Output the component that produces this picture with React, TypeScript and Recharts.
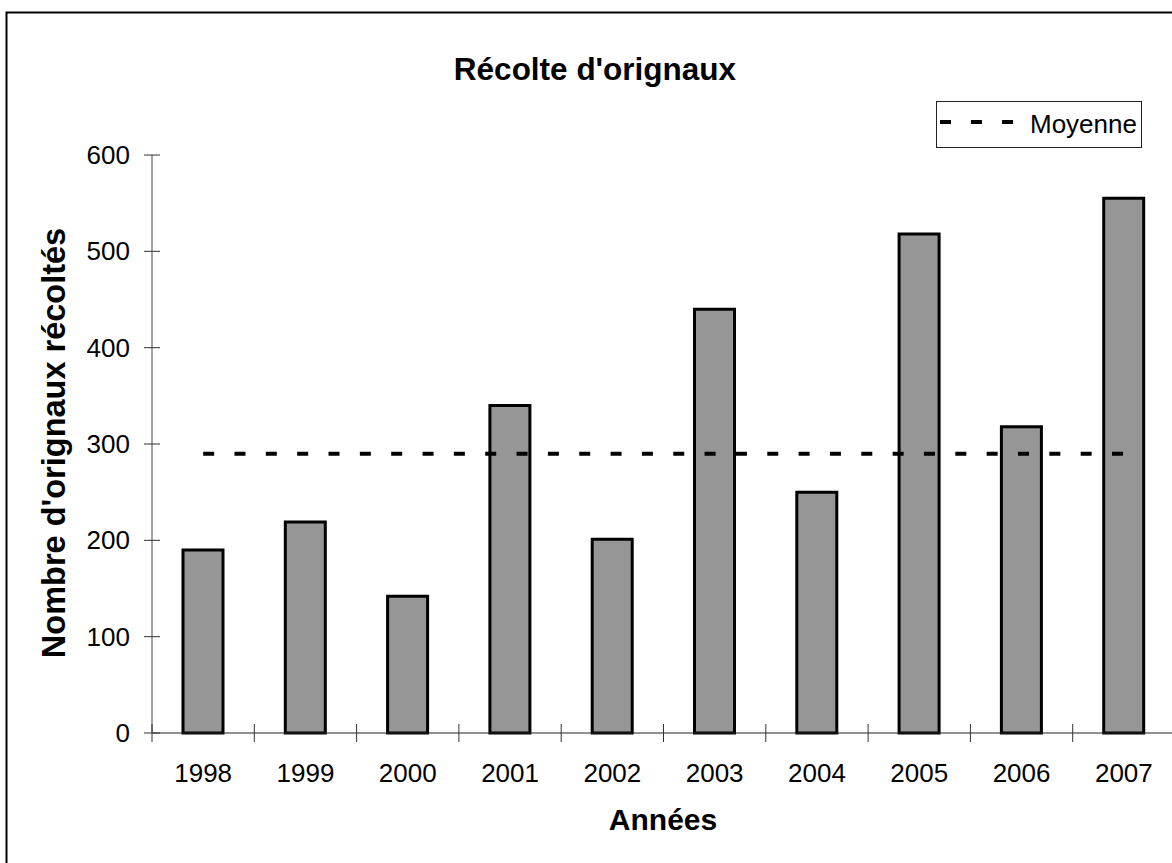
import { BarChart, Bar, Line, XAxis, YAxis, Legend } from "recharts";

const years = ["1998", "1999", "2000", "2001", "2002", "2003", "2004", "2005", "2006", "2007"];
const recolte = [190, 219, 142, 340, 201, 440, 250, 518, 318, 555];
const moyenne = 290;
const yTicks = [0, 100, 200, 300, 400, 500, 600];

const data = years.map((annee, i) => ({ annee, recolte: recolte[i], moyenne }));

const FONT = '"Liberation Sans", Arial, sans-serif';

function XTick(props: any) {
  const { x, y, payload, index, visibleTicksCount } = props;
  const half = payload && payload.offset ? payload.offset : 51;
  const last = index === visibleTicksCount - 1;
  return (
    <g>
      <line x1={x - half} x2={x - half} y1={y - 9} y2={y + 9} stroke="#333" />
      {last && <line x1={x + half} x2={x + half} y1={y - 9} y2={y + 9} stroke="#333" />}
      <text x={x} y={y + 49} textAnchor="middle" fontFamily={FONT} fontSize={26} fill="#000">
        {payload.value}
      </text>
    </g>
  );
}

function YTick(props: any) {
  const { x, y, payload } = props;
  return (
    <g>
      <line x1={x - 8} x2={x + 8} y1={y} y2={y} stroke="#333" />
      <text x={x - 22} y={y + 9} textAnchor="end" fontFamily={FONT} fontSize={26} fill="#000">
        {payload.value}
      </text>
    </g>
  );
}

function LegendBox() {
  return (
    <svg width={206} height={47} style={{ display: "block" }}>
      <rect x={0.5} y={0.5} width={205} height={46} fill="#fff" stroke="#222" />
      <line x1={4} x2={78} y1={21} y2={21} stroke="#000" strokeWidth={4} strokeDasharray="11 20" />
      <text x={94} y={32} fontFamily={FONT} fontSize={26} fill="#000">
        Moyenne
      </text>
    </svg>
  );
}

export default function App() {
  return (
    <div
      style={{
        position: "absolute",
        left: 0,
        top: 0,
        width: 1172,
        height: 863,
        overflow: "hidden",
        background: "#fff",
      }}
    >
      <BarChart
        width={1180}
        height={863}
        data={data}
        margin={{ top: 155, right: 5, left: 0, bottom: 0 }}
        style={{ position: "absolute", left: 0, top: 0 }}
      >
        <XAxis
          dataKey="annee"
          height={130}
          stroke="#222"
          tickLine={false}
          tickSize={0}
          tickMargin={0}
          tick={<XTick />}
          interval={0}
        />
        <YAxis
          width={152}
          domain={[0, 600]}
          ticks={yTicks}
          stroke="#444"
          tickLine={false}
          tickSize={0}
          tickMargin={0}
          tick={<YTick />}
          interval={0}
        />
        <Legend
          layout="vertical"
          align="center"
          verticalAlign="middle"
          content={<LegendBox />}
          wrapperStyle={{ left: 936, top: 101, width: 206, height: 47 }}
        />
        <Bar
          dataKey="recolte"
          barSize={40}
          fill="#969696"
          stroke="#000"
          strokeWidth={3}
          isAnimationActive={false}
          legendType="none"
        />
        <Line
          type="linear"
          dataKey="moyenne"
          stroke="#000"
          strokeWidth={4}
          strokeDasharray="11 20.34"
          dot={false}
          activeDot={false}
          isAnimationActive={false}
        />
      </BarChart>
      <svg
        width={1172}
        height={863}
        style={{ position: "absolute", left: 0, top: 0, pointerEvents: "none" }}
      >
        <rect x={6.5} y={12.5} width={2000} height={2000} fill="none" stroke="#000" strokeWidth={2} />
        <text x={595} y={80} textAnchor="middle" fontFamily={FONT} fontWeight="bold" fontSize={31.5} fill="#000">
          Récolte d'orignaux
        </text>
        <text x={663} y={830} textAnchor="middle" fontFamily={FONT} fontWeight="bold" fontSize={30} fill="#000">
          Années
        </text>
        <text
          x={65}
          y={443}
          transform="rotate(-90 65 443)"
          textAnchor="middle"
          fontFamily={FONT}
          fontWeight="bold"
          fontSize={32.5}
          fill="#000"
        >
          Nombre d'orignaux récoltés
        </text>
      </svg>
    </div>
  );
}
